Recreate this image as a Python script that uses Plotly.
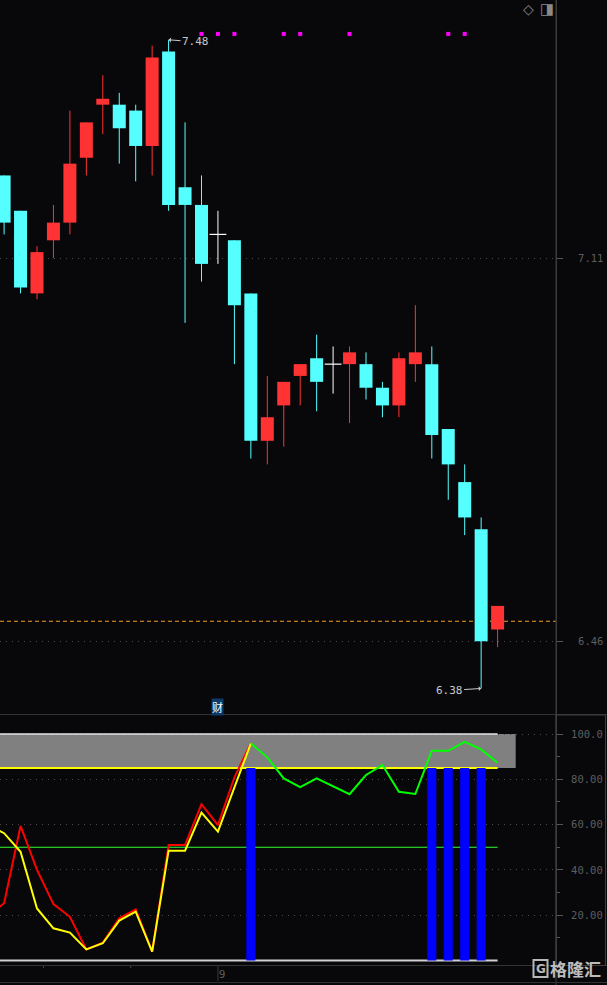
import plotly.graph_objects as go

# ---------------- data ----------------
opens  = [7.25, 7.19, 7.05, 7.14, 7.17, 7.28, 7.37, 7.37, 7.36, 7.30, 7.46, 7.23, 7.20, 7.15, 7.14, 7.05,
          6.80, 6.86, 6.91, 6.94, 6.93, 6.93, 6.93, 6.89, 6.86, 6.93, 6.93, 6.82, 6.73, 6.65, 6.48]
highs  = [7.25, 7.19, 7.13, 7.20, 7.36, 7.34, 7.42, 7.39, 7.37, 7.47, 7.48, 7.34, 7.25, 7.19, 7.14, 7.05,
          6.91, 6.90, 6.93, 6.98, 6.96, 6.96, 6.95, 6.90, 6.95, 7.03, 6.96, 6.82, 6.76, 6.67, 6.52]
lows   = [7.15, 7.05, 7.04, 7.11, 7.15, 7.25, 7.32, 7.27, 7.24, 7.25, 7.19, 7.00, 7.07, 7.10, 6.93, 6.77,
          6.76, 6.79, 6.86, 6.85, 6.88, 6.83, 6.87, 6.84, 6.84, 6.90, 6.77, 6.70, 6.64, 6.38, 6.45]
closes = [7.17, 7.06, 7.12, 7.17, 7.27, 7.34, 7.38, 7.33, 7.30, 7.45, 7.20, 7.20, 7.10, 7.15, 7.03, 6.80,
          6.84, 6.90, 6.93, 6.90, 6.93, 6.95, 6.89, 6.86, 6.94, 6.95, 6.81, 6.76, 6.67, 6.46, 6.52]

ref_price = 6.494                       # orange dashed reference line
signal_idx = [12, 13, 14, 17, 18, 21, 27, 28]   # magenta signal dots

# lower indicator panel
red_x = list(range(-1, 16))
red_vals = [19.6, 25.3, 59.4, 40.0, 24.9, 19.3, 4.9, 7.9, 18.6, 22.6, 3.9, 51.0, 51.0, 69.0, 59.8, 80.9, 95.9]
yellow_vals = [60.0, 56.2, 48.0, 23.0, 14.2, 12.3, 4.9, 7.6, 17.6, 21.6, 3.9, 48.5, 48.5, 65.3, 56.9, 76.7, 95.9]
green_x = list(range(15, 31))
green_vals = [95.9, 89.7, 80.4, 76.5, 80.4, 77.0, 73.4, 81.9, 86.3, 74.5, 73.5, 92.6, 92.6, 96.5, 93.2, 87.3]
blue_idx = [15, 26, 27, 28, 29]
blue_top = 85
band_low, band_high = 85, 100
levels = [100, 85, 50, 0]

upper_ticks = [7.11, 6.46]
upper_ticktext = ["7.11", "6.46"]
lower_ticks = [20, 40, 60, 80, 100]
lower_ticktext = ["20.00", "40.00", "60.00", "80.00", "100.0"]
lower_minor = [10, 30, 50, 70, 90]
date_ticks = [13]
date_labels = ["9"]
week_marks = [2.4, 7.7]

# ---------------- styling ----------------
W, H = 607, 985
PLOT_R = 51
PW = W - PLOT_R
BG = "#08080b"
RED = "#ff3333"
CYAN = "#55ffff"
AXC = "#3a3a3a"
LBL = "#5e5e5e"
MONO = "DejaVu Sans Mono"

n = len(opens)
spacing = 16.45
xmin = -4.1 / spacing
xmax = xmin + PW / spacing


def py(p):
    return 1 - p / H


def px(p):
    return p / PW


fig = go.Figure()

idx = list(range(n))
groups = {
    "up": ([i for i in idx if closes[i] > opens[i]], RED),
    "dn": ([i for i in idx if closes[i] < opens[i]], CYAN),
    "dj": ([i for i in idx if closes[i] == opens[i]], "#ffffff"),
}

for name, (g, col) in groups.items():
    wx, wy = [], []
    for i in g:
        wx += [i, i, None]
        wy += [lows[i], highs[i], None]
    fig.add_trace(go.Scatter(x=wx, y=wy, mode="lines", line=dict(color=col, width=1),
                             hoverinfo="skip", showlegend=False, xaxis="x", yaxis="y"))
    if name != "dj":
        fig.add_trace(go.Bar(x=g, base=[min(opens[i], closes[i]) for i in g],
                             y=[abs(closes[i] - opens[i]) for i in g], width=0.79,
                             marker=dict(color=col, line=dict(width=0)),
                             showlegend=False, xaxis="x", yaxis="y"))
    else:
        fig.add_trace(go.Scatter(x=g, y=[closes[i] for i in g], mode="markers",
                                 marker=dict(symbol="line-ew", size=12,
                                             line=dict(color=col, width=1.2)),
                                 showlegend=False, xaxis="x", yaxis="y"))

# signal dots
fig.add_trace(go.Scatter(x=signal_idx, y=[7.49] * len(signal_idx), mode="markers",
                         marker=dict(symbol="square", size=4, color="#ff00ff"),
                         showlegend=False, xaxis="x", yaxis="y"))

# lower panel
fig.add_trace(go.Bar(x=blue_idx, y=[blue_top] * len(blue_idx), width=0.55,
                     marker=dict(color="#0000ff", line=dict(width=0)),
                     showlegend=False, xaxis="x2", yaxis="y2"))
fig.add_trace(go.Scatter(x=red_x, y=red_vals, mode="lines", line=dict(color="#ff0000", width=2),
                         showlegend=False, xaxis="x2", yaxis="y2"))
fig.add_trace(go.Scatter(x=red_x, y=yellow_vals, mode="lines", line=dict(color="#ffff00", width=2),
                         showlegend=False, xaxis="x2", yaxis="y2"))
fig.add_trace(go.Scatter(x=green_x, y=green_vals, mode="lines", line=dict(color="#00ff00", width=2),
                         showlegend=False, xaxis="x2", yaxis="y2"))

shapes = []
# gray band
shapes.append(dict(type="rect", xref="x2", yref="y2", x0=-1, x1=n - 1 + 1.1, y0=band_low, y1=band_high,
                   fillcolor="#808080", line=dict(width=0), layer="below"))
lvl_style = {100: ("#e6e6e6", 1.5), 85: ("#ffff00", 2), 50: ("#33ff33", 1.2), 0: ("#d0d0d0", 2)}
for lv in levels:
    c, w = lvl_style[lv]
    shapes.append(dict(type="line", xref="x2", yref="y2", x0=-1, x1=n - 1, y0=lv, y1=lv,
                       line=dict(color=c, width=w), layer="between"))
# orange dashed ref line
shapes.append(dict(type="line", xref="paper", yref="y", x0=0, x1=1, y0=ref_price, y1=ref_price,
                   line=dict(color="#f59a20", width=1.2, dash="4px,3px"), layer="between"))
# separators
for yy, c in [(714.5, "#333333"), (965.5, "#333333"), (982.5, "#333333")]:
    shapes.append(dict(type="line", xref="paper", yref="paper", x0=0, x1=W / PW, y0=py(yy), y1=py(yy),
                       line=dict(color=c, width=1)))
shapes.append(dict(type="line", xref="paper", yref="paper", x0=1, x1=1, y0=0, y1=1,
                   line=dict(color=AXC, width=1)))
shapes.append(dict(type="rect", xref="paper", yref="paper", x0=1, x1=605.5 / PW, y0=py(965.5), y1=py(715),
                   line=dict(color="#3e3e3e", width=1)))
# date separator
for d in date_ticks:
    shapes.append(dict(type="line", xref="x2", yref="paper", x0=d, x1=d, y0=py(981), y1=py(966),
                       line=dict(color="#3a3a3a", width=1)))
for wm in week_marks:
    shapes.append(dict(type="line", xref="x2", yref="paper", x0=wm, x1=wm, y0=py(968), y1=py(966),
                       line=dict(color="#444444", width=1)))
# logo "G" badge outline
shapes.append(dict(type="rect", xref="paper", yref="paper", x0=px(533.5), x1=px(547.5), y0=py(977), y1=py(960),
                   line=dict(color="#b8b8b8", width=2)))

annos = []
hi_i = highs.index(max(highs))
lo_i = lows.index(min(lows))
annos.append(dict(x=hi_i, y=highs[hi_i], xref="x", yref="y", text=f"{highs[hi_i]:.2f}",
                  showarrow=True, ax=27, ay=2, arrowhead=1, arrowsize=0.8, arrowwidth=1,
                  arrowcolor="#c8c8c8", font=dict(family=MONO, size=11, color="#c8c8c8")))
annos.append(dict(x=lo_i, y=lows[lo_i], xref="x", yref="y", text=f"{lows[lo_i]:.2f}",
                  showarrow=True, ax=-32, ay=2, arrowhead=1, arrowsize=0.8, arrowwidth=1,
                  arrowcolor="#c8c8c8", font=dict(family=MONO, size=11, color="#c8c8c8")))
annos.append(dict(x=13, y=py(707), xref="x", yref="paper", text="财", showarrow=False,
                  xanchor="center", yanchor="middle", bgcolor="#0e3a68", borderpad=0,
                  font=dict(family="Noto Sans CJK SC", size=11, color="#ffffff")))
annos.append(dict(x=px(528), y=py(9), xref="paper", yref="paper", text="◇", showarrow=False,
                  xanchor="center", yanchor="middle",
                  font=dict(family="DejaVu Sans", size=14, color="#8a8a8a")))
annos.append(dict(x=px(547), y=py(9), xref="paper", yref="paper", text="◨", showarrow=False,
                  xanchor="center", yanchor="middle",
                  font=dict(family="DejaVu Sans", size=15, color="#8a8a8a")))
annos.append(dict(x=px(540.5), y=py(968.5), xref="paper", yref="paper", text="<b>G</b>", showarrow=False,
                  xanchor="center", yanchor="middle",
                  font=dict(family="DejaVu Sans", size=12, color="#b8b8b8")))
annos.append(dict(x=px(575), y=py(968.5), xref="paper", yref="paper", text="<b>格隆汇</b>", showarrow=False,
                  xanchor="center", yanchor="middle",
                  font=dict(family="Noto Sans CJK SC", size=17, color="#bdbdbd")))

axis_common = dict(range=[xmin, xmax], showgrid=False, zeroline=False, showline=False, fixedrange=True)

fig.update_layout(
    width=W, height=H,
    margin=dict(l=0, r=PLOT_R, t=0, b=0),
    paper_bgcolor=BG, plot_bgcolor=BG,
    barmode="overlay",
    showlegend=False,
    shapes=shapes,
    annotations=annos,
    xaxis=dict(domain=[0, 1], anchor="y", showticklabels=False, ticks="", **axis_common),
    xaxis2=dict(domain=[0, 1], anchor="y2", tickvals=date_ticks, ticktext=date_labels, ticks="",
                ticklabelshift=4, tickfont=dict(family=MONO, size=11, color=LBL), **axis_common),
    yaxis=dict(domain=[py(714), 1], range=[7.11 - (714 - 258) / 589.7, 7.11 + 258 / 589.7],
               side="right", tickvals=upper_ticks, ticktext=upper_ticktext,
               ticks="outside", ticklen=6, tickcolor="#555555", ticklabelstandoff=13,
               tickfont=dict(family=MONO, size=10.5, color=LBL),
               showgrid=True, gridcolor="#4a4a4a", griddash="1px,5px",
               zeroline=False, showline=True, linecolor=AXC, fixedrange=True),
    yaxis2=dict(domain=[py(965.5), py(715)], range=[(960.5 - 965.5) / 2.265, (960.5 - 715) / 2.265],
                side="right", tickvals=lower_ticks, ticktext=lower_ticktext,
                ticks="outside", ticklen=6, tickcolor="#555555", ticklabelstandoff=6,
                minor=dict(tickvals=lower_minor, ticks="outside", ticklen=3, tickcolor="#555555"),
                tickfont=dict(family=MONO, size=10.5, color=LBL),
                showgrid=True, gridcolor="#4a4a4a", griddash="1px,5px",
                zeroline=False, showline=True, linecolor=AXC, fixedrange=True),
)

fig.write_html("out.html", config={"displayModeBar": False},
               post_script="document.body.style.margin='0';document.body.style.background='#08080b';")
